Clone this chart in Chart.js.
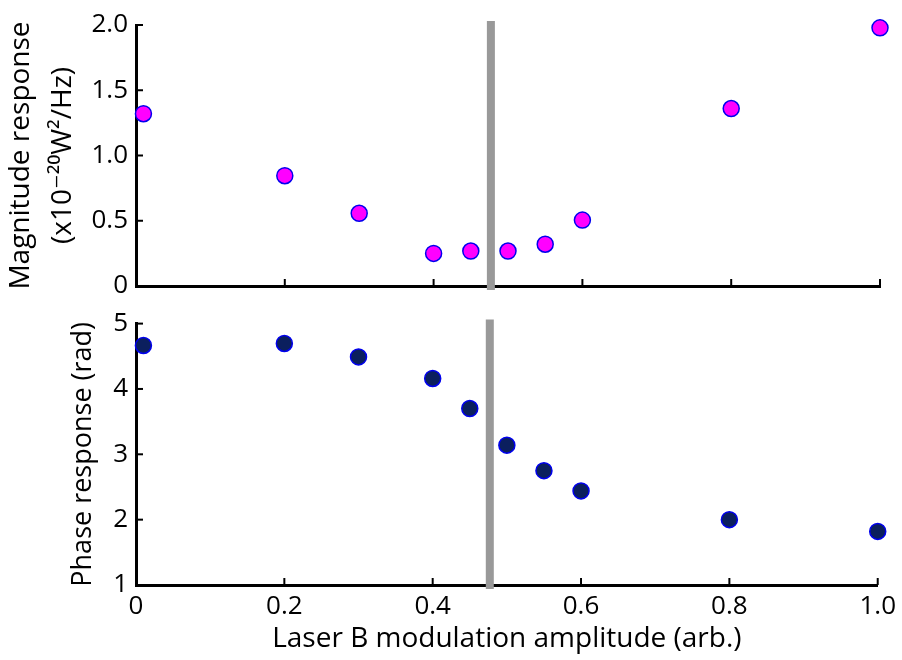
<!DOCTYPE html>
<html>
<head>
<meta charset="utf-8">
<script src="https://cdn.jsdelivr.net/npm/chart.js@4/dist/chart.umd.min.js"></script>
<style>
	html, body { margin:0; padding:0; background:#fff; }
	#wrap { position:relative; width:902px; height:660px; }
	#wrap canvas { position:absolute; left:0; }
	#magChart { top:0; }
	#phaseChart { top:300px; }
</style>
</head>
<body>
<div id="wrap">
	<canvas id="magChart" width="902" height="340"></canvas>
	<canvas id="phaseChart" width="902" height="360"></canvas>
</div>
<script>
//========================================================//
// 데이터
//--------------------------------------------------------//
// 레이저 B 변조 진폭 (arb.)
const amplitude = [0.01, 0.2, 0.3, 0.4, 0.45, 0.5, 0.55, 0.6, 0.8, 1.0];
// 크기 응답 (x10^-20 W^2/Hz)
const magnitude = [1.32, 0.845, 0.557, 0.25, 0.268, 0.268, 0.32, 0.505, 1.36, 1.978];
// 위상 응답 (rad)
const phase     = [4.665, 4.696, 4.49, 4.16, 3.70, 3.14, 2.75, 2.44, 2.00, 1.82];
// 회색 세로선 위치
const markerX   = 0.477;
// 눈금
const xTicks     = [0, 0.2, 0.4, 0.6, 0.8, 1.0];
const magTicks   = [0, 0.5, 1.0, 1.5, 2.0];
const phaseTicks = [1, 2, 3, 4, 5];

const FONT = "'Open Sans', 'DejaVu Sans', sans-serif";

let fmt = function(v) {
	if (v === 0) return '0';
	return (Math.round(v * 10) / 10).toFixed(1);
};

// 안쪽 방향 눈금 그리기
//--------------------------------------------------------//
const inwardTicks = {
	id: 'inwardTicks',
	afterDraw: function(chart) {
		let ctx = chart.ctx;
		let area = chart.chartArea;
		let len = 7;
		ctx.save();
		ctx.strokeStyle = '#000';
		ctx.lineWidth = 2;
		chart.scales.x.ticks.forEach(function(t) {
			let px = chart.scales.x.getPixelForValue(t.value);
			ctx.beginPath();
			ctx.moveTo(px, area.bottom);
			ctx.lineTo(px, area.bottom - len);
			ctx.stroke();
		});
		chart.scales.y.ticks.forEach(function(t) {
			let py = chart.scales.y.getPixelForValue(t.value);
			ctx.beginPath();
			ctx.moveTo(area.left, py);
			ctx.lineTo(area.left + len, py);
			ctx.stroke();
		});
		ctx.restore();
	}
};

// 차트 생성
//--------------------------------------------------------//
let _drawPanel = function(id, args) {
	let yMin = args.yTicks[0];
	let yMax = args.yTicks[args.yTicks.length - 1];
	let points = amplitude.map(function(x, i) { return {x: x, y: args.values[i]}; });

	return new Chart(document.getElementById(id), {
		type: 'scatter',
		data: {
			datasets: [{
				data: [{x: markerX, y: yMin}, {x: markerX, y: yMax}],
				showLine: true,
				borderColor: '#999999',
				borderWidth: 8,
				borderCapStyle: 'square',
				pointRadius: 0,
				clip: false,
				order: 2
			}, {
				data: points,
				pointRadius: 8,
				pointHoverRadius: 8,
				pointBackgroundColor: args.fill,
				pointBorderColor: '#0000ee',
				pointBorderWidth: 1.5,
				clip: false,
				order: 1
			}]
		},
		options: {
			responsive: false,
			animation: false,
			events: [],
			layout: { padding: args.padding },
			plugins: { legend: {display: false}, tooltip: {enabled: false} },
			scales: {
				x: {
					type: 'linear', min: 0, max: 1,
					grid: {display: false, drawTicks: false},
					border: {display: true, color: '#000', width: 3},
					afterBuildTicks: function(s) { s.ticks = xTicks.map(function(v) { return {value: v}; }); },
					afterFit: function(s) { s.height = args.xHeight; },
					ticks: {
						display: args.showX,
						padding: 6,
						color: '#000',
						font: {family: FONT, size: 26},
						callback: fmt
					},
					title: {
						display: args.showX,
						text: 'Laser B modulation amplitude (arb.)',
						color: '#000',
						padding: {top: 3},
						font: {family: FONT, size: 28}
					}
				},
				y: {
					type: 'linear', min: yMin, max: yMax,
					grid: {display: false, drawTicks: false},
					border: {display: true, color: '#000', width: 3},
					afterBuildTicks: function(s) { s.ticks = args.yTicks.map(function(v) { return {value: v}; }); },
					afterFit: function(s) { s.width = 136; },
					ticks: {
						padding: 8,
						color: '#000',
						font: {family: FONT, size: 26},
						callback: args.yFmt
					},
					title: {
						display: true,
						text: args.yTitle,
						color: '#000',
						padding: {top: args.titlePad},
						font: {family: FONT, size: args.titleSize, lineHeight: args.lineHeight}
					}
				}
			}
		},
		plugins: [inwardTicks]
	});
};

_drawPanel('magChart', {
	values: magnitude,
	yTicks: magTicks,
	fill: '#ff00ff',
	showX: false,
	xHeight: 54,
	padding: {top: 25, right: 22, left: 0, bottom: 0},
	yTitle: ['Magnitude response', '(x10\u207B\u00B2\u2070W\u00B2/Hz)'],
	titleSize: 28,
	titlePad: 0,
	lineHeight: 1.5,
	yFmt: fmt
});

_drawPanel('phaseChart', {
	values: phase,
	yTicks: phaseTicks,
	fill: '#0b1f5e',
	showX: true,
	xHeight: 75,
	padding: {top: 22, right: 22, left: 0, bottom: 0},
	yTitle: 'Phase response (rad)',
	titleSize: 27,
	titlePad: 67,
	lineHeight: 1.2,
	yFmt: function(v) { return String(v); }
});
</script>
</body>
</html>
